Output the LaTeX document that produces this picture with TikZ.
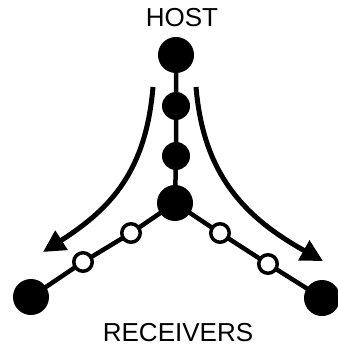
\documentclass[tikz,border=0pt]{standalone}
\usepackage{fontspec}
\setmainfont{Liberation Sans}
\usetikzlibrary{arrows.meta}
\begin{document}
\begin{tikzpicture}[x=1pt,y=-1pt,
  big/.style={circle,fill=black,minimum size=36pt,inner sep=0pt},
  mid/.style={circle,fill=black,minimum size=28pt,inner sep=0pt},
  hollow/.style={circle,draw=black,fill=white,line width=3.5pt,minimum size=18.5pt,inner sep=0pt},
  link/.style={line width=4.5pt},
  flow/.style={line width=5pt,-{Triangle[length=22pt,width=22pt]}},
  lbl/.style={font=\fontsize{26}{30}\selectfont,inner sep=0pt}]
\useasboundingbox (0,0) rectangle (337,347);
\node[lbl] (host) at (182,18) {HOST};
\node[lbl] (recv) at (178,333) {RECEIVERS};
\coordinate (hc) at (176,55);
\coordinate (m1c) at (176,106);
\coordinate (m2c) at (176,156);
\coordinate (cc) at (175,203);
\coordinate (lrc) at (31,297);
\coordinate (rrc) at (322,298);
\coordinate (lo1c) at (131,233);
\coordinate (lo2c) at (83,262);
\coordinate (ro1c) at (220,233);
\coordinate (ro2c) at (268,264);
\draw[link] (hc) -- (m1c) -- (m2c) -- (cc);
\draw[link] (cc) -- (lo1c) -- (lo2c) -- (lrc);
\draw[link] (cc) -- (ro1c) -- (ro2c) -- (rrc);
\node[big] (h) at (hc) {};
\node[mid] (m1) at (m1c) {};
\node[mid] (m2) at (m2c) {};
\node[big] (c) at (cc) {};
\node[big] (lr) at (lrc) {};
\node[big] (rr) at (rrc) {};
\node[hollow] (lo1) at (lo1c) {};
\node[hollow] (lo2) at (lo2c) {};
\node[hollow] (ro1) at (ro1c) {};
\node[hollow] (ro2) at (ro2c) {};
\coordinate (las) at (153,87);
\coordinate (lae) at (43,252);
\coordinate (ras) at (196,87);
\coordinate (rae) at (323,261);
\draw[flow] (las) .. controls (146,170) and (112,208) .. (lae);
\draw[flow] (ras) .. controls (203,170) and (240,215) .. (rae);
\end{tikzpicture}
\end{document}
